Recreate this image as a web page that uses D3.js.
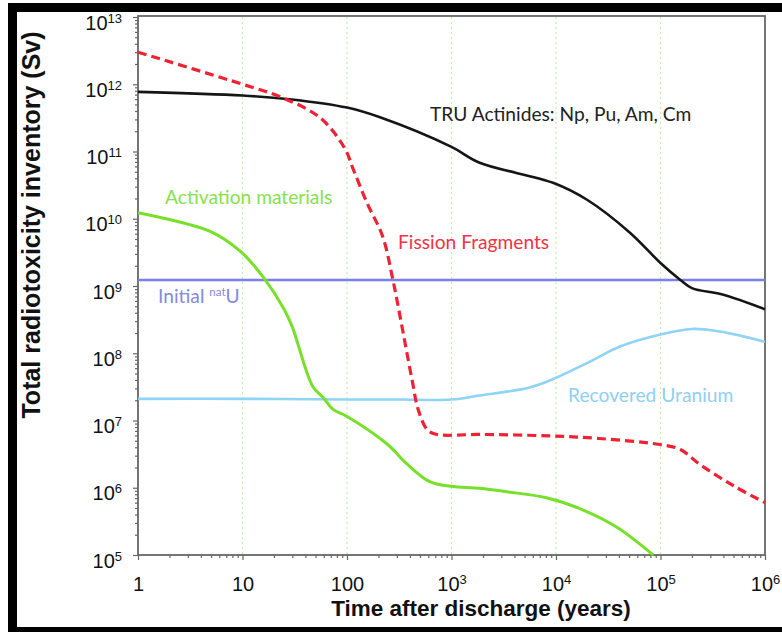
<!DOCTYPE html>
<html><head><meta charset="utf-8">
<script src="https://cdn.jsdelivr.net/npm/d3@7"></script>
<style>
html,body{margin:0;padding:0;background:#fff;}
svg{display:block;}
</style></head>
<body>
<svg id="chart" width="782" height="632"></svg>
<script>
// ---- data ----
const yearTicks = [1, 10, 100, 1e3, 1e4, 1e5, 1e6];
const xTickLabels = [["1",""],["10",""],["100",""],["10","3"],["10","4"],["10","5"],["10","6"]];
const svTicks = [1e5,1e6,1e7,1e8,1e9,1e10,1e11,1e12,1e13];
const yTickLabels = [["10","5"],["10","6"],["10","7"],["10","8"],["10","9"],["10","10"],["10","11"],["10","12"],["10","13"]];

const truT = [1, 10, 28, 100, 210, 1000, 1860, 9500, 20000, 51000, 100000, 155000, 200000, 400000, 1000000];
const truV = [7.7e11, 6.8e11, 6.0e11, 4.5e11, 3.2e11, 1.17e11, 6.8e10, 3.4e10, 1.9e10, 6.2e9, 2.2e9, 1.23e9, 9.3e8, 7.4e8, 4.5e8];

const ffT = [1, 10, 23, 55, 95, 115, 155, 220, 275, 300, 345, 425, 480, 590, 725, 1860, 8700, 26000, 98000, 155000, 240000, 510000, 1000000];
const ffV = [3.0e12, 1.0e12, 6.5e11, 3.2e11, 1.12e11, 5.4e10, 1.74e10, 5.4e9, 1.23e9, 6.3e8, 2.0e8, 3.6e7, 1.45e7, 7.2e6, 6.2e6, 6.2e6, 5.9e6, 5.4e6, 4.4e6, 3.7e6, 2.2e6, 1.05e6, 6.0e5];

const amT = [1, 4.9, 9.5, 16, 25, 30, 47, 59, 74, 100, 245, 370, 620, 980, 1860, 3400, 8100, 18000, 38000, 85000];
const amV = [1.23e10, 6.5e9, 3.3e9, 1.32e9, 4.5e8, 2.45e8, 3.2e7, 2.2e7, 1.45e7, 1.15e7, 4.4e6, 2.3e6, 1.23e6, 1.05e6, 9.8e5, 8.7e5, 7.1e5, 4.7e5, 2.6e5, 1.0e5];

const ruT = [1, 10, 100, 320, 1000, 1860, 5600, 9300, 20000, 41000, 100000, 200000, 370000, 1000000];
const ruV = [2.1e7, 2.1e7, 2.05e7, 2.05e7, 2.05e7, 2.35e7, 3.1e7, 4.1e7, 7.2e7, 1.26e8, 1.9e8, 2.3e8, 2.1e8, 1.48e8];

const natUT = [1, 1000000];
const natUV = [1.23e9, 1.23e9];

// ---- drawing ----
const svg = d3.select("#chart");
const L = 138, R = 765, T = 17, B = 555;
const x = d3.scaleLog().domain([1, 1e6]).range([L, R]);
const y = d3.scaleLog().domain([1e5, 1e13]).range([B, T]);

// outer black frame
svg.append("rect").attr("x", 8).attr("y", 3).attr("width", 774).attr("height", 9).attr("fill", "#000");
svg.append("rect").attr("x", 8).attr("y", 3).attr("width", 9).attr("height", 629).attr("fill", "#000");
svg.append("rect").attr("x", 8).attr("y", 627).attr("width", 774).attr("height", 5).attr("fill", "#000");

// vertical dotted grid
svg.append("g").selectAll("line").data(yearTicks.slice(1, -1)).join("line")
  .attr("x1", d => x(d)).attr("x2", d => x(d)).attr("y1", T).attr("y2", B)
  .attr("stroke", "#c6f0a8").attr("stroke-width", 1.2).attr("stroke-dasharray", "2,3");

// minor tick values
const minorX = [], minorY = [];
for (let e = 0; e < 6; e++) for (let m = 2; m <= 9; m++) minorX.push(m * Math.pow(10, e));
for (let e = 5; e < 13; e++) for (let m = 2; m <= 9; m++) minorY.push(m * Math.pow(10, e));

const axisColor = "#666";
function styleAxis(g) {
  g.select(".domain").remove();
  g.selectAll(".tick line").attr("stroke", axisColor).attr("stroke-width", 1.2);
}

// x axis
const gx = svg.append("g").attr("transform", `translate(0,${B})`)
  .call(d3.axisBottom(x).tickValues(yearTicks).tickSize(5).tickFormat(() => ""));
styleAxis(gx);
svg.append("g").attr("transform", `translate(0,${B})`)
  .call(d3.axisBottom(x).tickValues(minorX).tickSize(3).tickFormat(() => "")).call(styleAxis);
gx.selectAll(".tick").each(function(d, i) {
  const t = d3.select(this).append("text")
    .attr("y", 36).attr("fill", "#111").attr("text-anchor", "middle")
    .style("font-family", "'Liberation Sans', Arial, sans-serif").style("font-size", "20px");
  t.append("tspan").text(xTickLabels[i][0]);
  if (xTickLabels[i][1]) t.append("tspan").attr("dy", -7).style("font-size", "13px").text(xTickLabels[i][1]);
});

// y axis
const gy = svg.append("g").attr("transform", `translate(${L},0)`)
  .call(d3.axisLeft(y).tickValues(svTicks).tickSize(5).tickFormat(() => ""));
styleAxis(gy);
svg.append("g").attr("transform", `translate(${L},0)`)
  .call(d3.axisLeft(y).tickValues(minorY).tickSize(3).tickFormat(() => "")).call(styleAxis);
gy.selectAll(".tick").each(function(d, i) {
  const t = d3.select(this).append("text")
    .attr("x", -16).attr("y", 12).attr("fill", "#111").attr("text-anchor", "end")
    .style("font-family", "'Liberation Sans', Arial, sans-serif").style("font-size", "20px");
  t.append("tspan").text(yTickLabels[i][0]);
  t.append("tspan").attr("dy", -7).style("font-size", "13px").text(yTickLabels[i][1]);
});

// plot frame
svg.append("rect").attr("x", L).attr("y", T - 1).attr("width", R - L).attr("height", B - T + 1)
  .attr("fill", "none").attr("stroke", axisColor).attr("stroke-width", 1.8);

// series
const line = d3.line().x(d => x(d[0])).y(d => y(d[1])).curve(d3.curveCatmullRom.alpha(0.5));
function series(ts, vs, color, w, dash) {
  const p = svg.append("path").datum(ts.map((t, i) => [t, vs[i]]))
    .attr("d", line).attr("fill", "none").attr("stroke", color).attr("stroke-width", w)
    .attr("stroke-linejoin", "round");
  if (dash) p.attr("stroke-dasharray", dash);
}
series(ruT, ruV, "#8fd3f5", 2.6);
series(natUT, natUV, "#7a7ff0", 2.4);
series(amT, amV, "#77e02a", 3);
series(truT, truV, "#151515", 2.6);
series(ffT, ffV, "#ee2233", 3.2, "9,5");

// labels
const lf = "Lato, 'Open Sans', sans-serif";
function label(txt, px, py, color) {
  return svg.append("text").attr("x", px).attr("y", py).attr("fill", color)
    .style("font-family", lf).style("font-size", "19.2px").text(txt);
}
label("TRU Actinides: Np, Pu, Am, Cm", 430, 121, "#222");
label("Fission Fragments", 398, 249, "#ee3344");
label("Activation materials", 165, 204, "#86e24c");
label("Recovered Uranium", 568, 402, "#8ed0f4");
const nat = svg.append("text").attr("x", 158).attr("y", 303).attr("fill", "#8589dc")
  .style("font-family", lf).style("font-size", "19.2px");
nat.append("tspan").text("Initial ");
nat.append("tspan").attr("dy", -7).style("font-size", "11.5px").text("nat");
nat.append("tspan").attr("dy", 7).text("U");

// axis titles
svg.append("text").attr("x", 481).attr("y", 616).attr("text-anchor", "middle").attr("fill", "#111")
  .style("font-family", "'Liberation Sans', Arial, sans-serif").style("font-size", "22.5px").style("font-weight", "bold")
  .text("Time after discharge (years)");
svg.append("text").attr("transform", "translate(40,225) rotate(-90)").attr("text-anchor", "middle").attr("fill", "#111")
  .style("font-family", "'Liberation Sans', Arial, sans-serif").style("font-size", "25px").style("font-weight", "bold")
  .text("Total radiotoxicity inventory (Sv)");
</script>
</body></html>
